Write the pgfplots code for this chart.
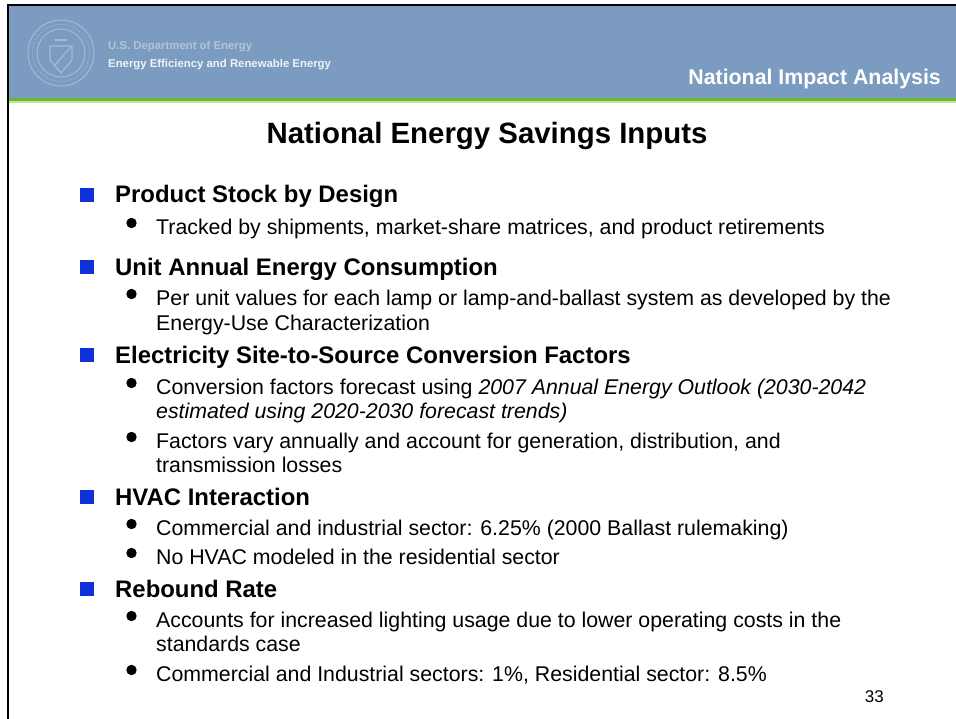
\documentclass[border=0pt]{standalone}
\usepackage{pgfplots}
\pgfplotsset{compat=1.18}
\usepackage{fontspec}
\setmainfont{Liberation Sans}
\definecolor{hdr}{HTML}{7B9CC0}
\definecolor{grn}{HTML}{6CB82C}
\definecolor{lgrn}{HTML}{C4E39A}
\definecolor{seal}{HTML}{A4BAD3}
\definecolor{sq}{HTML}{1030D8}
\newcommand{\B}[3]{\node[anchor=base west,inner sep=0pt,font=\fontsize{24}{26}\selectfont\bfseries] at (axis cs:#1,#2) {#3};}
\newcommand{\Q}[1]{\fill[sq] (axis cs:80,#1-15) rectangle (axis cs:94,#1-1);}
\newcommand{\Bl}[1]{\fill[black] (axis cs:131.5,#1-11) circle[radius=5.2bp];}
\newcommand{\Tx}[3]{\node[anchor=base west,inner sep=0pt,font=\fontsize{21.4}{24}\selectfont] at (axis cs:#1,#2) {#3};}
\begin{document}
\begin{tikzpicture}
\begin{axis}[
  scale only axis,width=956bp,height=719bp,
  xmin=0,xmax=956,ymin=0,ymax=719,y dir=reverse,
  hide axis,clip=true]
\addplot[draw=none,forget plot] coordinates {(0,0) (956,719)};
% header
\fill[hdr] (axis cs:8,5) rectangle (axis cs:956,98);
\fill[grn] (axis cs:8,98) rectangle (axis cs:956,101.5);
\fill[lgrn] (axis cs:8,101.5) rectangle (axis cs:956,103);
\fill[black] (axis cs:7,4) rectangle (axis cs:956,6.5);
\fill[black] (axis cs:6.5,4) rectangle (axis cs:9,719);
% seal
\draw[seal,line width=1bp] (axis cs:61,53) circle[radius=33bp];
\draw[seal,line width=1bp] (axis cs:61,53) circle[radius=24bp];
\draw[seal,line width=1bp,dotted] (axis cs:61,53) circle[radius=28.5bp];
\draw[seal,line width=1.2bp] (axis cs:50,46) -- (axis cs:72,46) -- (axis cs:72,60) -- (axis cs:61,73) -- (axis cs:50,60) -- cycle;
\draw[seal,line width=1.2bp] (axis cs:54,66) -- (axis cs:71,47);
\draw[seal,line width=1.5bp] (axis cs:55,40) -- (axis cs:67,40);
\node[anchor=base west,inner sep=0pt,text=seal!85!white,font=\fontsize{11.4}{14}\selectfont\bfseries] at (axis cs:108,50) {U.S. Department of Energy};
\node[anchor=base west,inner sep=0pt,text=white!88!hdr,font=\fontsize{11.4}{14}\selectfont\bfseries] at (axis cs:108,68) {Energy Efficiency and Renewable Energy};
\node[anchor=base east,inner sep=0pt,text=white,font=\fontsize{21.4}{24}\selectfont\bfseries] at (axis cs:941,85) {National Impact Analysis};
% title
\node[anchor=base,inner sep=0pt,font=\fontsize{29.5}{32}\selectfont\bfseries] at (axis cs:487,144) {National Energy Savings Inputs};
% body
\Q{203}\B{115}{203}{Product Stock by Design}
\Bl{234}\Tx{156}{234}{Tracked by shipments, market-share matrices, and product retirements}
\Q{275}\B{115}{275}{Unit Annual Energy Consumption}
\Bl{305}\Tx{156}{305}{Per unit values for each lamp or lamp-and-ballast system as developed by the}
\Tx{156}{330}{Energy-Use Characterization}
\Q{363}\B{115}{363}{Electricity Site-to-Source Conversion Factors}
\Bl{394}\Tx{156}{394}{Conversion factors forecast using \textit{2007 Annual Energy Outlook (2030-2042}}
\Tx{156}{418}{\textit{estimated using 2020-2030 forecast trends)}}
\Bl{448}\Tx{156}{448}{Factors vary annually and account for generation, distribution, and}
\Tx{156}{472}{transmission losses}
\Q{505}\B{115}{505}{HVAC Interaction}
\Bl{535}\Tx{156}{535}{Commercial and industrial sector: 6.25\% (2000 Ballast rulemaking)}
\Bl{564}\Tx{156}{564}{No HVAC modeled in the residential sector}
\Q{597}\B{115}{597}{Rebound Rate}
\Bl{627}\Tx{156}{627}{Accounts for increased lighting usage due to lower operating costs in the}
\Tx{156}{651}{standards case}
\Bl{681}\Tx{156}{681}{Commercial and Industrial sectors: 1\%, Residential sector: 8.5\%}
\node[anchor=base east,inner sep=0pt,font=\fontsize{17}{18}\selectfont] at (axis cs:884,702) {33};
\end{axis}
\end{tikzpicture}
\end{document}
